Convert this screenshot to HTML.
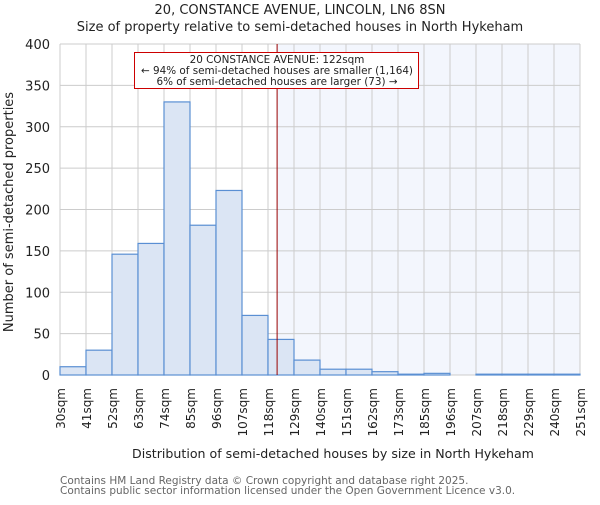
<!DOCTYPE html>
<html><head><meta charset="utf-8"><style>body{margin:0;background:#fff}svg text{font-family:"DejaVu Sans","Liberation Sans",sans-serif}</style></head>
<body>
<svg id="chart" width="600" height="500"></svg>
<script>
const binLabels=["30sqm","41sqm","52sqm","63sqm","74sqm","85sqm","96sqm","107sqm","118sqm","129sqm","140sqm","151sqm","162sqm","173sqm","185sqm","196sqm","207sqm","218sqm","229sqm","240sqm","251sqm"];
const counts=[10,30,146,159,330,181,223,72,43,18,7,7,4,1,2,0,1,1,1,1];
const yTicks=[0,50,100,150,200,250,300,350,400];
const propertyBin=8.35;
const NS="http://www.w3.org/2000/svg";
const svg=document.getElementById('chart');
const L=60,R=580,T=44,B=375,yMax=400;
const bw=(R-L)/counts.length;
const x=i=>L+i*bw;
const y=v=>B-(v/yMax)*(B-T);
function mk(tag,attrs,parent){const e=document.createElementNS(NS,tag);for(const k in attrs)e.setAttribute(k,attrs[k]);(parent||svg).appendChild(e);return e;}
const px=x(propertyBin);
let sh=mk('rect',{x:px,y:T,width:R-px,height:B-T,fill:'#f3f6fd'});


for(let i=0;i<=counts.length;i++){let g=mk('line',{x1:x(i),x2:x(i),y1:T,y2:B,stroke:'#cccccc','stroke-width':1});

}
yTicks.forEach(t=>{let g=mk('line',{x1:L,x2:R,y1:y(t),y2:y(t),stroke:'#cccccc','stroke-width':1});


let tx=mk('text',{x:L-10,y:y(t)+5,'text-anchor':'end','font-size':13,fill:'#222'});tx.textContent=t;

});
counts.forEach((c,i)=>{let r=mk('rect',{x:x(i),y:y(c),width:bw,height:B-y(c),fill:'#dbe5f4',stroke:'#5a8fd3','stroke-width':1.2});

});
binLabels.forEach((lb,i)=>{let tx=mk('text',{transform:`translate(${x(i)+5},${388}) rotate(-90)`,'text-anchor':'end','font-size':12,fill:'#222'});tx.textContent=lb;

});
let pl=mk('line',{x1:px,x2:px,y1:T,y2:B,stroke:'#990000','stroke-width':1});


let ab=mk('rect',{x:134.5,y:52.5,width:284,height:36,fill:'#fff',stroke:'#cc0000','stroke-width':1});


[["20 CONSTANCE AVENUE: 122sqm",63],["← 94% of semi-detached houses are smaller (1,164)",74],["6% of semi-detached houses are larger (73) →",85]].forEach(a=>{let t=mk('text',{x:277,y:a[1],'text-anchor':'middle','font-size':10.4,fill:'#222'});t.textContent=a[0];

});
const texts=[["20, CONSTANCE AVENUE, LINCOLN, LN6 8SN",300,14,13,'middle','#222','chart-title'],["Size of property relative to semi-detached houses in North Hykeham",300,31,13,'middle','#222','chart-subtitle'],["Distribution of semi-detached houses by size in North Hykeham",333,458,12.6,'middle','#222','x-axis-title'],["Contains HM Land Registry data © Crown copyright and database right 2025.",60,484,10.5,'start','#666','footer-line-1'],["Contains public sector information licensed under the Open Government Licence v3.0.",60,494,10.5,'start','#666','footer-line-2']];
texts.forEach(a=>{let t=mk('text',{x:a[1],y:a[2],'font-size':a[3],'text-anchor':a[4],fill:a[5]});t.textContent=a[0];

});
let yt=mk('text',{transform:'translate(13,212) rotate(-90)','text-anchor':'middle','font-size':13,fill:'#222'});yt.textContent='Number of semi-detached properties';


</script>
</body></html>
